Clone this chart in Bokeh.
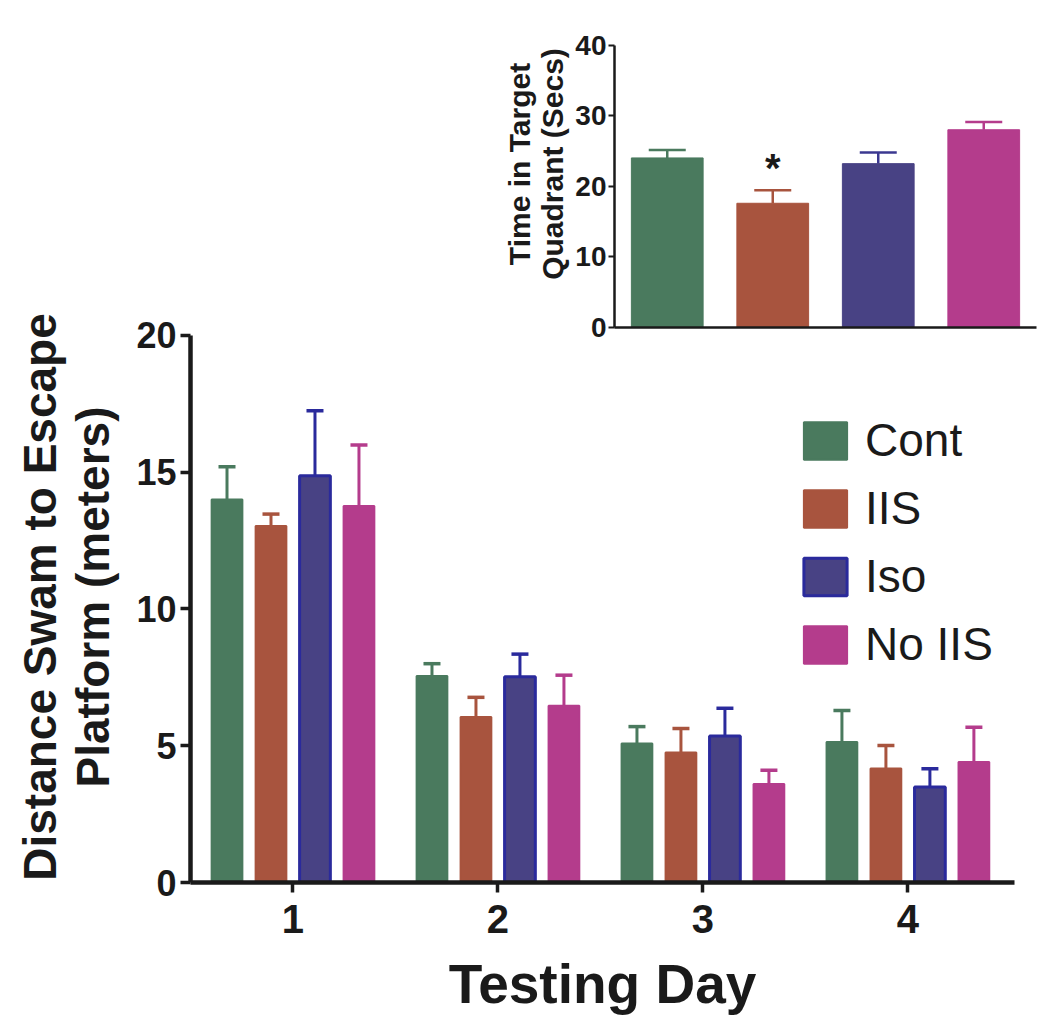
from bokeh.plotting import figure
from bokeh.models import (Range1d, FixedTicker, ColumnDataSource, Whisker, TeeHead,
                          Legend, LegendItem)
from bokeh.layouts import column
from bokeh.embed import file_html
from bokeh.resources import INLINE
from bokeh.core.properties import value

# ---------------- data ----------------
groups = ["Cont", "IIS", "Iso", "No IIS"]
days = [1, 2, 3, 4]
cont_mean = [14.0, 7.55, 5.08, 5.14]
cont_err = [15.2, 8.0, 5.70, 6.29]
iis_mean = [13.03, 6.05, 4.75, 4.17]
iis_err = [13.47, 6.77, 5.63, 5.01]
iso_mean = [14.87, 7.52, 5.36, 3.49]
iso_err = [17.25, 8.35, 6.37, 4.16]
noiis_mean = [13.77, 6.46, 3.60, 4.41]
noiis_err = [16.0, 7.58, 4.10, 5.68]

quad_mean = [24.05, 17.62, 23.24, 28.05]
quad_err = [25.19, 19.48, 24.81, 29.14]
quad_sig = ["", "*", "", ""]

main_yticks = [0, 5, 10, 15, 20]
quad_yticks = [0, 10, 20, 30, 40]

fill_colors = ["#4a7a5e", "#a8543e", "#484284", "#b43c8c"]
line_colors = ["#4a7a5e", "#a8543e", "#2a2a9c", "#b43c8c"]
quad_err_colors = ["#4a7a5e", "#a8543e", "#3b3890", "#b43c8c"]
line_widths = [2, 2, 3, 2]

means = [cont_mean, iis_mean, iso_mean, noiis_mean]
errs = [cont_err, iis_err, iso_err, noiis_err]

FONT = "Liberation Sans"

# ---------------- inset ----------------
# frame reaches the top edge; the axis itself is bounded to 0..40
pi = figure(width=1044, height=343, x_range=Range1d(-0.5, 3.5), y_range=Range1d(0, 46.38),
            output_backend="svg", toolbar_location=None, frame_align=False,
            min_border_left=614, min_border_right=8, min_border_top=0, min_border_bottom=16)
pi.grid.visible = False
pi.outline_line_color = None
pi.background_fill_color = None
pi.border_fill_color = None

src_q = ColumnDataSource(dict(x=list(range(len(groups))), top=quad_mean, err=quad_err,
                              fill=fill_colors))
pi.vbar(x="x", top="top", bottom=0, width=0.68, source=src_q,
        fill_color="fill", line_color="fill", line_width=1)
for i, c in enumerate(quad_err_colors):
    s = ColumnDataSource(dict(x=[i], lo=[quad_mean[i]], hi=[quad_err[i]]))
    pi.add_layout(Whisker(base="x", lower="lo", upper="hi", source=s, dimension="height",
                          line_color=c, line_width=2.5,
                          upper_head=TeeHead(size=37, line_color=c, line_width=2.5),
                          lower_head=None))
sig_x = [i for i, s in enumerate(quad_sig) if s]
sig_y = [quad_err[i] + 3.1 for i in sig_x]
sig_t = [quad_sig[i] for i in sig_x]
pi.text(x=sig_x, y=sig_y, text=sig_t, text_font=value(FONT), text_font_style="bold",
        text_font_size="40px", text_align="center", text_baseline="alphabetic", text_color="#1a1a1a")

ya = pi.yaxis[0]
ya.ticker = FixedTicker(ticks=quad_yticks)
ya.bounds = (0, 40)
ya.axis_line_width = 2.5
ya.axis_line_color = "#1a1a1a"
ya.major_tick_line_width = 2
ya.major_tick_line_color = "#1a1a1a"
ya.major_tick_out = 6
ya.major_tick_in = 0
ya.minor_tick_out = 0
ya.minor_tick_in = 0
ya.major_label_standoff = 2
ya.major_label_text_font = FONT
ya.major_label_text_font_style = "bold"
ya.major_label_text_font_size = "28px"
ya.major_label_text_color = "#1a1a1a"
ya.axis_label = "Time in Target\nQuadrant (Secs)"
ya.axis_label_text_font = FONT
ya.axis_label_text_font_style = "bold"
ya.axis_label_text_font_size = "30px"
ya.axis_label_text_line_height = 1.02
ya.axis_label_text_color = "#1a1a1a"
ya.axis_label_standoff = 3

xa = pi.xaxis[0]
xa.ticker = FixedTicker(ticks=[])
xa.axis_line_width = 2.5
xa.axis_line_color = "#1a1a1a"
xa.major_tick_out = 0
xa.minor_tick_out = 0
xa.major_label_text_font_size = "0px"

# ---------------- main ----------------
p = figure(width=1044, height=750, x_range=Range1d(0.5, 4.52), y_range=Range1d(0, 20.877),
           output_backend="svg", toolbar_location=None, frame_align=False,
           min_border_left=190, min_border_right=30, min_border_top=31, min_border_bottom=148)
p.margin = (-63, 0, 0, 0)
p.grid.visible = False
p.outline_line_color = None
p.background_fill_color = None
p.border_fill_color = None

pitch = 0.2146
offsets = [-1.5 * pitch, -0.5 * pitch, 0.5 * pitch, 1.5 * pitch]
items = []
for j, g in enumerate(groups):
    xs = [d + offsets[j] for d in days]
    s = ColumnDataSource(dict(x=xs, top=means[j], lo=means[j], hi=errs[j]))
    r = p.vbar(x="x", top="top", bottom=0, width=0.150, source=s,
               fill_color=fill_colors[j], line_color=line_colors[j], line_width=line_widths[j])
    p.add_layout(Whisker(base="x", lower="lo", upper="hi", source=s, dimension="height",
                         line_color=line_colors[j], line_width=3,
                         upper_head=TeeHead(size=17, line_color=line_colors[j], line_width=3.5),
                         lower_head=None))
    items.append(LegendItem(label=g, renderers=[r]))

legend = Legend(items=items, location=(608, 211), glyph_width=54, glyph_height=47,
                label_height=47, spacing=14, label_standoff=13,
                label_text_font=FONT, label_text_font_size="46px", label_text_color="#1a1a1a",
                padding=0, margin=0, border_line_color=None, background_fill_alpha=0)
p.add_layout(legend)

for ax in (p.xaxis[0], p.yaxis[0]):
    ax.axis_line_width = 4.5
    ax.axis_line_color = "#1a1a1a"
    ax.major_tick_line_width = 3.5
    ax.major_tick_line_color = "#1a1a1a"
    ax.major_tick_out = 10
    ax.major_tick_in = 0
    ax.minor_tick_out = 0
    ax.minor_tick_in = 0
    ax.major_label_text_font = FONT
    ax.major_label_text_font_style = "bold"
    ax.major_label_text_color = "#1a1a1a"
    ax.axis_label_text_font = FONT
    ax.axis_label_text_font_style = "bold"
    ax.axis_label_text_color = "#1a1a1a"

yax = p.yaxis[0]
yax.ticker = FixedTicker(ticks=main_yticks)
yax.bounds = (0, 20)
yax.major_label_text_font_size = "36px"
yax.major_label_standoff = 4
yax.axis_label = "Distance Swam to Escape\nPlatform (meters)"
yax.axis_label_text_font_size = "46px"
yax.axis_label_text_line_height = 1.02
yax.axis_label_standoff = 14

xax = p.xaxis[0]
xax.ticker = FixedTicker(ticks=days)
xax.major_label_text_font_size = "40px"
xax.major_label_standoff = 12
xax.axis_label = "Testing Day"
xax.axis_label_text_font_size = "55px"
xax.axis_label_standoff = 17

layout = column(pi, p)
open("out.html", "w").write(file_html(layout, INLINE))
